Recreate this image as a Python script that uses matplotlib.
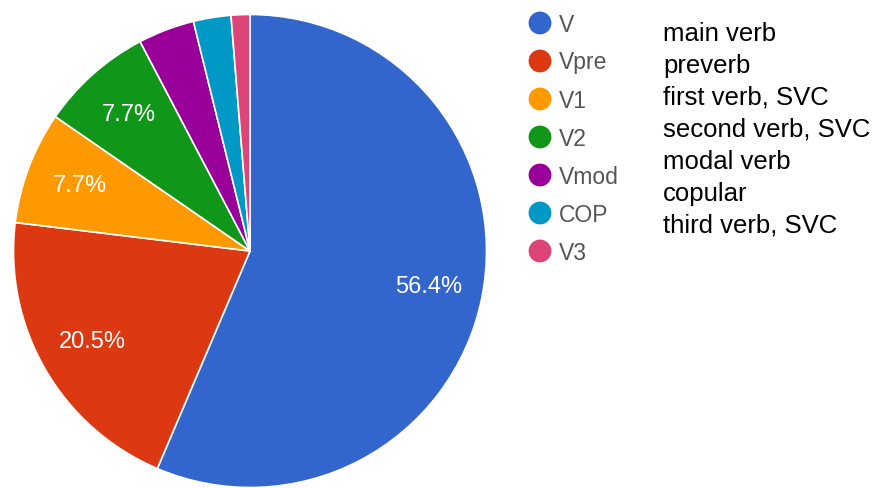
import matplotlib.pyplot as plt

plt.rcParams['font.family'] = ['Liberation Sans', 'DejaVu Sans']

# 품사 태그와 개수 (총 78)
tags = ['V', 'Vpre', 'V1', 'V2', 'Vmod', 'COP', 'V3']
counts = [44, 16, 6, 6, 3, 2, 1]
colors = ['#3366CC', '#DC3912', '#FF9900', '#109618', '#990099', '#0099C6', '#DD4477']
meanings = ['main verb', 'preverb', 'first verb, SVC', 'second verb, SVC',
            'modal verb', 'copular', 'third verb, SVC']

W, H = 884, 488
fig = plt.figure(figsize=(W / 100, H / 100), dpi=100)

# 원그래프 영역 (픽셀 기준으로 배치)
cx, cy, r = 250, 251, 236.5
ax = fig.add_axes([(cx - r) / W, (H - cy - r) / H, 2 * r / W, 2 * r / H])


def fmt(p):
    return '%.1f%%' % p if p > 5 else ''


wedges, texts, autotexts = ax.pie(counts, colors=colors, startangle=90, counterclock=False,
                                  autopct=fmt, pctdistance=0.77,
                                  wedgeprops={'edgecolor': 'white', 'linewidth': 1.2},
                                  textprops={'color': 'white', 'fontsize': 17})
ax.set_xlim(-1, 1)
ax.set_ylim(-1, 1)
ax.set_aspect('equal')

# 범례 + 설명 (전체 그림 위의 픽셀 좌표 축)
ov = fig.add_axes([0, 0, 1, 1])
ov.set_xlim(0, W)
ov.set_ylim(H, 0)
ov.axis('off')
for i in range(len(tags)):
    y = 23 + i * 38
    ov.scatter(540, y, s=270, color=colors[i], edgecolors='none')
    ov.text(559, y + 8.5, tags[i], fontsize=16.5, color='#555555', va='baseline', ha='left')

for i in range(len(meanings)):
    ov.text(663, 41 + i * 32, meanings[i], fontsize=18.5, color='black', va='baseline', ha='left')

plt.savefig('out.png', dpi=100)
